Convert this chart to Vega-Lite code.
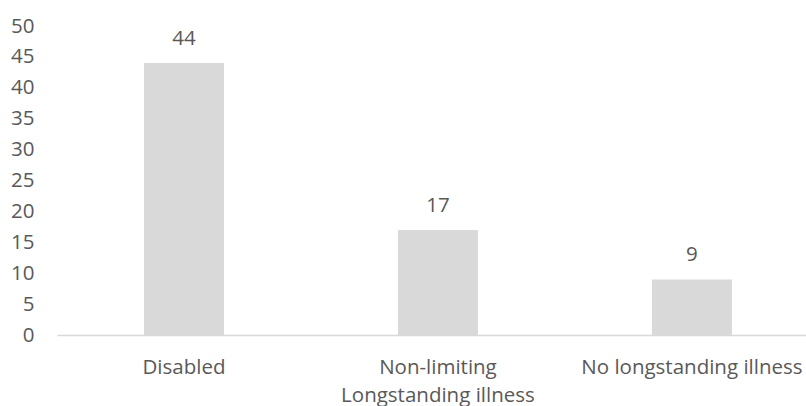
{
  "$schema": "https://vega.github.io/schema/vega-lite/v6.json",
  "autosize": {"type": "none"},
  "padding": {"left": 57, "top": 26, "right": 0, "bottom": 71},
  "width": 749,
  "height": 309,
  "background": "white",
  "config": {"view": {"stroke": null}, "font": "Open Sans"},
  "data": {
    "values": [
      {"category": "Disabled", "value": 44},
      {"category": "Non-limiting Longstanding illness", "value": 17},
      {"category": "No longstanding illness", "value": 9}
    ]
  },
  "encoding": {
    "x": {
      "field": "category",
      "type": "nominal",
      "sort": null,
      "scale": {"paddingInner": 0.685, "paddingOuter": 0.317, "align": 0.54},
      "axis": {
        "title": null,
        "labelAngle": 0,
        "labelExpr": "datum.value == 'Non-limiting Longstanding illness' ? ['Non-limiting', 'Longstanding illness'] : datum.value",
        "labelFont": "Open Sans",
        "labelFontSize": 20.5,
        "labelColor": "#595959",
        "labelLineHeight": 28,
        "labelPadding": 22,
        "labelBaseline": "top",
        "labelOverlap": false,
        "labelBound": false,
        "labelLimit": 400,
        "ticks": false,
        "domainColor": "#d9d9d9",
        "domainWidth": 1.5,
        "grid": false
      }
    },
    "y": {
      "field": "value",
      "type": "quantitative",
      "scale": {"domain": [0, 50], "nice": false},
      "axis": {
        "title": null,
        "values": [0, 5, 10, 15, 20, 25, 30, 35, 40, 45, 50],
        "labelFont": "Open Sans",
        "labelFontSize": 20.5,
        "labelColor": "#595959",
        "labelPadding": 23,
        "labelOverlap": false,
        "ticks": false,
        "domain": false,
        "grid": false
      }
    }
  },
  "layer": [
    {"mark": {"type": "bar", "color": "#d9d9d9"}},
    {
      "mark": {"type": "text", "baseline": "alphabetic", "dy": -18, "fontSize": 20.5, "color": "#595959", "font": "Open Sans"},
      "encoding": {"text": {"field": "value", "type": "quantitative"}}
    }
  ]
}
